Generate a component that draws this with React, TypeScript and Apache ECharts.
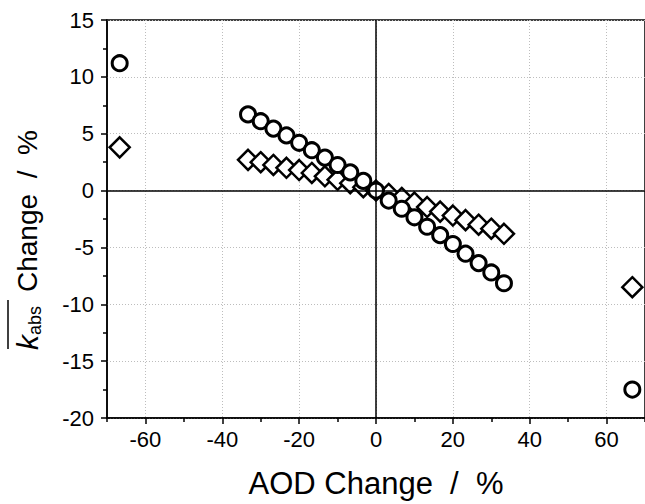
import React, { useEffect, useRef } from "react";
import * as echarts from "echarts";

const xValues = [-66.7, -33.3, -30, -26.7, -23.3, -20, -16.7, -13.3, -10, -6.7, -3.3, 0, 3.3, 6.7, 10, 13.3, 16.7, 20, 23.3, 26.7, 30, 33.3, 66.7];
const circleValues = [11.2, 6.7, 6.1, 5.45, 4.85, 4.2, 3.55, 2.9, 2.25, 1.6, 0.85, 0, -0.88, -1.6, -2.35, -3.18, -3.92, -4.7, -5.55, -6.38, -7.2, -8.15, -17.5];
const diamondValues = [3.8, 2.7, 2.5, 2.25, 2.0, 1.8, 1.55, 1.25, 0.95, 0.65, 0.3, 0, -0.3, -0.65, -1.05, -1.45, -1.85, -2.2, -2.6, -3.0, -3.35, -3.8, -8.5];

const xMajorTicks = [-60, -40, -20, 0, 20, 40, 60];
const xMinorTicks = [-70, -50, -30, -10, 10, 30, 50, 70];

const FONT = "'Liberation Sans', Arial, sans-serif";

export default function App() {
  const ref = useRef<HTMLDivElement>(null);
  useEffect(() => {
    if (!ref.current) return;
    const chart = echarts.init(ref.current, null, { renderer: "svg" });
    const circleData = xValues.map((x, i) => [x, circleValues[i]]);
    const diamondData = xValues.map((x, i) => [x, diamondValues[i]]);
    chart.setOption({
      animation: false,
      backgroundColor: "#fff",
      grid: {
        left: 107,
        top: 20,
        width: 542,
        height: 405,
        show: true,
        borderColor: "#000",
        borderWidth: 1.5,
        backgroundColor: "transparent",
      },
      xAxis: [
        {
          type: "value",
          min: -70,
          max: 70,
          position: "bottom",
          axisLine: { show: true, onZero: false, lineStyle: { color: "#000", width: 1.5 } },
          axisTick: { show: true, customValues: xMajorTicks, length: 6, lineStyle: { color: "#000", width: 1.5 } },
          axisLabel: { customValues: xMajorTicks, color: "#000", fontFamily: FONT, fontSize: 22, margin: 10 },
          splitLine: { show: true, lineStyle: { color: "#bdbdbd", type: [1, 2], width: 1 } },
          name: "AOD Change  /  %",
          nameLocation: "middle",
          nameGap: 50,
          nameTextStyle: { color: "#000", fontFamily: FONT, fontSize: 31 },
        },
        {
          type: "value",
          min: -70,
          max: 70,
          position: "bottom",
          axisLine: { show: false, onZero: false },
          axisTick: { show: true, customValues: xMinorTicks, length: 4, lineStyle: { color: "#000", width: 1.5 } },
          axisLabel: { show: false },
          splitLine: { show: false },
        },
      ],
      yAxis: {
        type: "value",
        min: -20,
        max: 15,
        interval: 5,
        axisLine: { show: true, onZero: false, lineStyle: { color: "#000", width: 1.5 } },
        axisTick: { show: true, length: 6, lineStyle: { color: "#000", width: 1.5 } },
        minorTick: { show: true, splitNumber: 2, length: 4, lineStyle: { color: "#000", width: 1.5 } },
        axisLabel: { color: "#000", fontFamily: FONT, fontSize: 22, margin: 13 },
        splitLine: { show: true, lineStyle: { color: "#bdbdbd", type: [1, 2], width: 1 } },
      },
      graphic: [
        {
          type: "group",
          x: 27,
          y: 350,
          rotation: Math.PI / 2,
          children: [
            {
              type: "text",
              x: 0,
              y: 0,
              style: { text: "k", font: `italic 30px ${FONT}`, fill: "#000", textVerticalAlign: "middle", verticalAlign: "middle" },
            },
            {
              type: "text",
              x: 15,
              y: 8,
              style: { text: "abs", font: `18px ${FONT}`, fill: "#000", textVerticalAlign: "middle", verticalAlign: "middle" },
            },
            {
              type: "text",
              x: 58,
              y: 0,
              style: { text: "Change  /  %", font: `28px ${FONT}`, fill: "#000", textVerticalAlign: "middle", verticalAlign: "middle" },
            },
            {
              type: "line",
              shape: { x1: 1, y1: -19, x2: 50, y2: -19 },
              style: { stroke: "#000", lineWidth: 1.5 },
            },
          ],
        },
      ],
      series: [
        {
          type: "scatter",
          xAxisIndex: 0,
          data: diamondData,
          symbol: "diamond",
          symbolSize: 20,
          itemStyle: { color: "#fff", borderColor: "#000", borderWidth: 2.5, opacity: 1 },
          markLine: {
            silent: true,
            symbol: ["none", "none"],
            label: { show: false },
            lineStyle: { color: "#000", width: 1.5, type: "solid" },
            data: [{ xAxis: 0 }, { yAxis: 0 }],
          },
        },
        {
          type: "scatter",
          xAxisIndex: 0,
          data: circleData,
          symbol: "circle",
          symbolSize: 15,
          itemStyle: { color: "#fff", borderColor: "#000", borderWidth: 3, opacity: 1 },
        },
      ],
    });
    return () => chart.dispose();
  }, []);
  return <div ref={ref} style={{ position: "fixed", left: 0, top: 0, width: 645, height: 504 }} />;
}
